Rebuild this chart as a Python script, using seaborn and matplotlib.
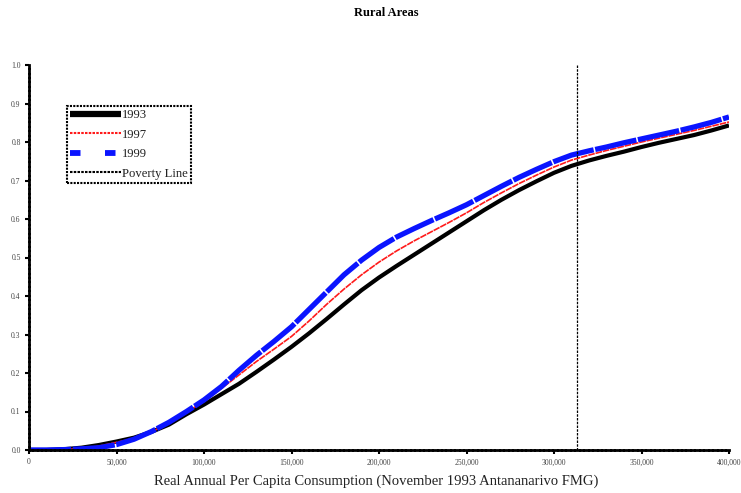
import matplotlib
matplotlib.use("Agg")
import matplotlib.pyplot as plt
from matplotlib.lines import Line2D
from matplotlib.ticker import FuncFormatter
import numpy as np
import pandas as pd
import seaborn as sns

# Cumulative share of the rural population below each consumption level
consumption = [0, 10000, 20000, 30000, 40000, 50000, 60000, 70000, 80000, 90000,
               100000, 110000, 120000, 130000, 140000, 150000, 160000, 170000, 180000, 190000,
               200000, 210000, 220000, 230000, 240000, 250000, 260000, 270000, 280000, 290000,
               300000, 310000, 320000, 330000, 340000, 350000, 360000, 370000, 380000, 390000,
               400000]
share_1993 = [0.0, 0.0, 0.002, 0.006, 0.013, 0.022, 0.032, 0.047, 0.066, 0.093,
              0.118, 0.145, 0.172, 0.203, 0.235, 0.268, 0.303, 0.34, 0.378, 0.415,
              0.448, 0.478, 0.507, 0.536, 0.565, 0.594, 0.623, 0.65, 0.675, 0.698,
              0.72, 0.738, 0.752, 0.764, 0.775, 0.787, 0.798, 0.808, 0.818, 0.83,
              0.843]
share_1997 = [0.0, 0.0, 0.001, 0.004, 0.01, 0.02, 0.03, 0.047, 0.07, 0.098,
              0.126, 0.16, 0.195, 0.23, 0.262, 0.295, 0.335, 0.378, 0.418, 0.455,
              0.488, 0.517, 0.543, 0.567, 0.591, 0.616, 0.643, 0.668, 0.692, 0.714,
              0.735, 0.753, 0.766, 0.778, 0.789, 0.8, 0.81, 0.82, 0.83, 0.841,
              0.852]
share_1999 = [0.0, 0.0, 0.001, 0.003, 0.006, 0.014, 0.028, 0.048, 0.072, 0.1,
              0.13, 0.165, 0.207, 0.246, 0.282, 0.32, 0.365, 0.41, 0.455, 0.493,
              0.526, 0.553, 0.575, 0.596, 0.616, 0.637, 0.661, 0.685, 0.708, 0.729,
              0.749, 0.766, 0.777, 0.787, 0.798, 0.808, 0.818, 0.828, 0.839, 0.851,
              0.865]
poverty_line = 313000
x_ticks = [0, 50000, 100000, 150000, 200000, 250000, 300000, 350000, 400000]
y_ticks = [0.0, 0.1, 0.2, 0.3, 0.4, 0.5, 0.6, 0.7, 0.8, 0.9, 1.0]

sns.set_theme(style="white")
plt.rcParams["font.family"] = ["Liberation Serif", "DejaVu Serif"]

fig = plt.figure(figsize=(7.41, 4.93), dpi=100)
ax = fig.add_axes([29 / 741, 1 - 450 / 493, 700 / 741, 385 / 493])

sns.lineplot(x=consumption, y=share_1993, ax=ax, color="black", linewidth=3.0,
             solid_capstyle="butt", estimator=None, sort=False)
sns.lineplot(x=consumption, y=share_1997, ax=ax, color="#ff1a1a", linewidth=1.2,
             estimator=None, sort=False, linestyle=(0, (4, 0.5)))
sns.lineplot(x=consumption, y=share_1999, ax=ax, color="#0a14ff", linewidth=3.8,
             estimator=None, sort=False, linestyle=(0, (8, 0.3)))
ax.axvline(poverty_line, color="black", linewidth=0.9, linestyle=(0, (2, 1)))

ax.set_xlim(0, 400000)
ax.set_ylim(0, 1.0)
ax.set_xticks(x_ticks)
ax.set_yticks(y_ticks)
ax.xaxis.set_major_formatter(FuncFormatter(lambda v, p: f"{int(v):,}"))
ax.yaxis.set_major_formatter(FuncFormatter(lambda v, p: f"{v:.1f}"))
ax.tick_params(axis="both", which="major", labelsize=5.5, labelcolor="#444444",
               length=3, width=1.5, color="black", direction="out", pad=3,
               bottom=True, left=True)
ax.set_xlabel("")
ax.set_ylabel("")

for side in ["top", "right"]:
    ax.spines[side].set_visible(False)
for side in ["left", "bottom"]:
    ax.spines[side].set_color("black")
    ax.spines[side].set_linewidth(2)
    ax.spines[side].set_linestyle((0, (1, 0.6)))

handles = [
    Line2D([], [], color="black", linewidth=4.5, solid_capstyle="butt"),
    Line2D([], [], color="#ff1a1a", linewidth=1.5, linestyle=(0, (1.2, 0.6))),
    Line2D([], [], color="#0a14ff", linewidth=4.2, linestyle=(0, (1.8, 4.2))),
    Line2D([], [], color="black", linewidth=1.5, linestyle=(0, (1.2, 0.6))),
]
labels = ["1993", "1997", "1999", "Poverty Line"]
leg = fig.legend(handles, labels, loc="upper left",
                 bbox_to_anchor=(67 / 741, 1 - 106 / 493), borderaxespad=0,
                 fontsize=9.1, handlelength=4.0, handletextpad=0.1,
                 labelspacing=0.6, borderpad=0.25, fancybox=False,
                 framealpha=1, edgecolor="black")
frame = leg.get_frame()
frame.set_linestyle((0, (1, 0.6)))
frame.set_linewidth(1.5)
for t in leg.get_texts():
    t.set_color("#222222")

fig.text(386 / 741, 1 - 13 / 493, "Rural Areas", ha="center", va="center",
         fontsize=9, fontweight="bold", color="black")
fig.text(376 / 741, 1 - 481 / 493,
         "Real Annual Per Capita Consumption (November 1993 Antananarivo FMG)",
         ha="center", va="center", fontsize=10.5, color="#222222")

fig.savefig("out.png", dpi=100)
